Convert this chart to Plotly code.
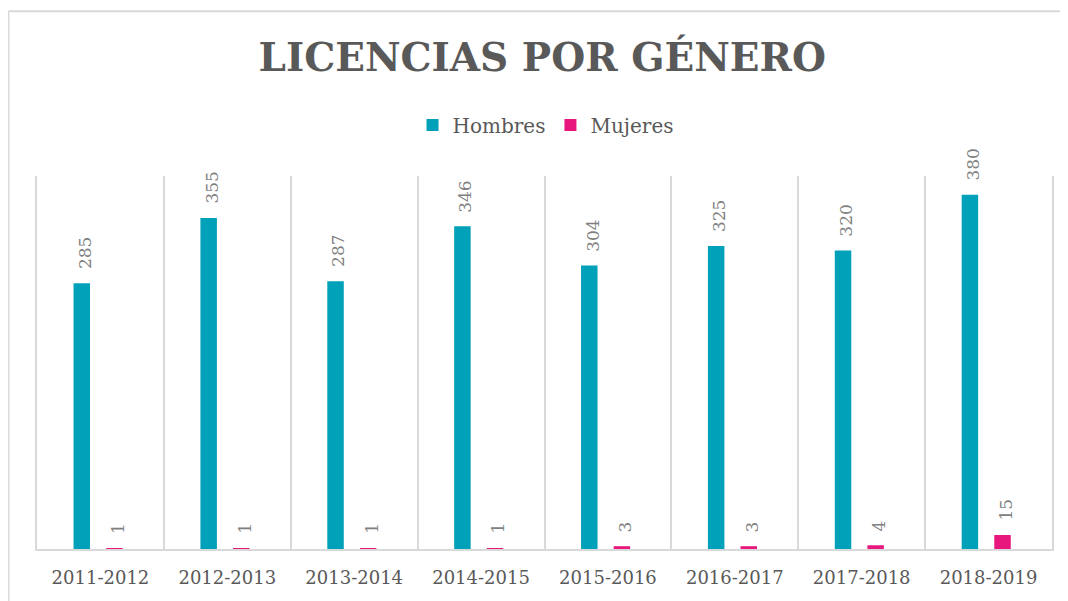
import plotly.graph_objects as go

categories = ["2011-2012", "2012-2013", "2013-2014", "2014-2015",
              "2015-2016", "2016-2017", "2017-2018", "2018-2019"]
hombres = [285, 355, 287, 346, 304, 325, 320, 380]
mujeres = [1, 1, 1, 1, 3, 3, 4, 15]

title_text = "LICENCIAS POR GÉNERO"
series_names = ["Hombres", "Mujeres"]
colors = ["#00A1B9", "#E8177D"]

SERIF = "DejaVu Serif, Liberation Serif, serif"
GREY = "#595959"

bar_w = 0.13
off_h = -0.212
off_m = 0.045

fig = go.Figure()
fig.add_trace(go.Bar(x=categories, y=hombres, name=series_names[0],
                     marker=dict(color=colors[0], line=dict(width=0)),
                     width=bar_w, offset=off_h, hoverinfo="x+y"))
fig.add_trace(go.Bar(x=categories, y=mujeres, name=series_names[1],
                     marker=dict(color=colors[1], line=dict(width=0)),
                     width=bar_w, offset=off_m, hoverinfo="x+y"))

annotations = []
for i in range(len(categories)):
    for vals, off in ((hombres, off_h), (mujeres, off_m)):
        annotations.append(dict(
            x=i + off + bar_w / 2, y=vals[i], xref="x", yref="y",
            text=str(vals[i]), showarrow=False, textangle=-90,
            xanchor="center", yanchor="bottom", yshift=12, xshift=3,
            font=dict(family=SERIF, size=17, color="#7f7f7f")))

fig.update_layout(
    width=1060, height=593,
    margin=dict(l=29, r=16, t=168, b=52),
    paper_bgcolor="white", plot_bgcolor="white",
    barmode="overlay",
    title=dict(text="<b>" + title_text + "</b>", x=0.504, xanchor="center",
               y=0.917, yanchor="middle",
               font=dict(family=SERIF, size=39, color=GREY)),
    legend=dict(orientation="h", x=0.501, xanchor="center", y=1.137,
                yanchor="middle", font=dict(family=SERIF, size=20, color=GREY),
                itemwidth=30, traceorder="normal"),
    xaxis=dict(type="category", tickson="boundaries", showgrid=True,
               gridcolor="#d9d9d9", gridwidth=1.5, ticks="",
               showline=True, linecolor="#d9d9d9", linewidth=2,
               tickfont=dict(family=SERIF, size=18, color=GREY),
               ticklabelstandoff=11, fixedrange=True),
    yaxis=dict(range=[0, 400], showgrid=False, showticklabels=False,
               zeroline=False, showline=True, mirror=True,
               linecolor="#d9d9d9", linewidth=1.5, ticks="", fixedrange=True),
    annotations=annotations,
    showlegend=True,
)

# outer chart border (left and top edges visible)
fig.add_shape(type="line", xref="paper", yref="paper", x0=-0.0281, x1=-0.0281,
              y0=-0.2, y1=1.442, line=dict(color="#d9d9d9", width=2))
fig.add_shape(type="line", xref="paper", yref="paper", x0=-0.0281, x1=1.03,
              y0=1.442, y1=1.442, line=dict(color="#d9d9d9", width=2))

fig.write_html("out.html")
